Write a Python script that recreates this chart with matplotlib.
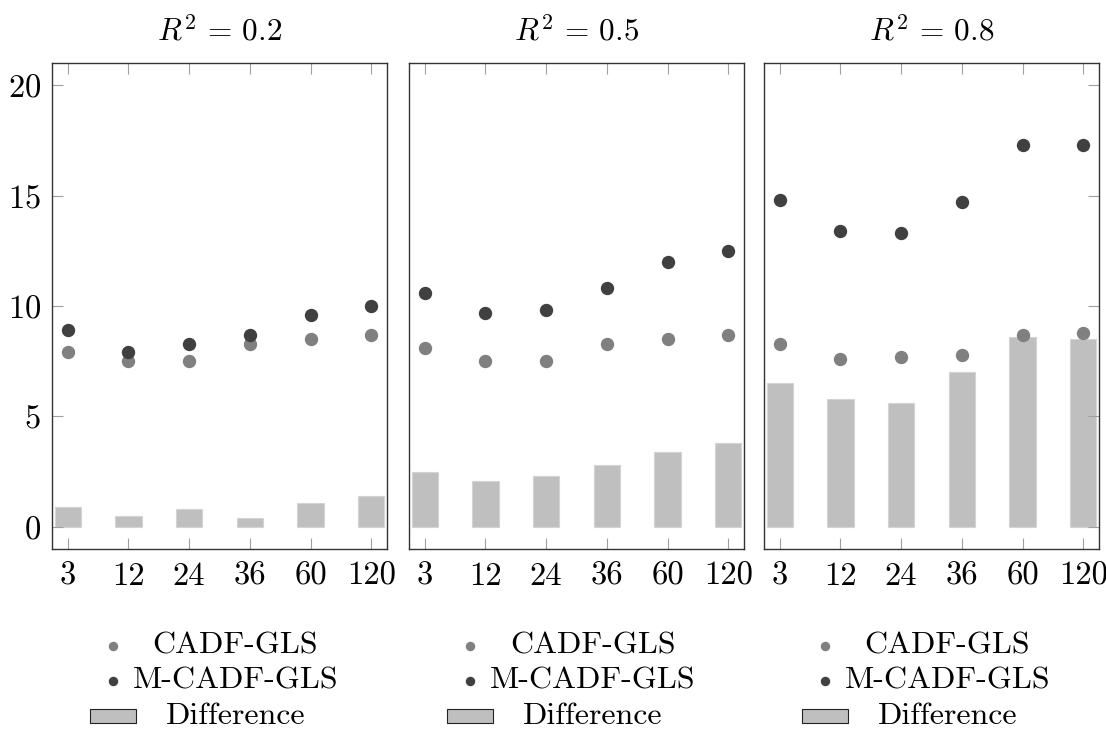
import matplotlib
matplotlib.use("Agg")
import matplotlib.pyplot as plt
from matplotlib.lines import Line2D
from matplotlib.patches import Rectangle
import numpy as np

### DATA ###
horizons = ["3", "12", "24", "36", "60", "120"]
r2_titles = [r"$R^2\,=\,0.2$", r"$R^2\,=\,0.5$", r"$R^2\,=\,0.8$"]

cadf_02 = [7.9, 7.5, 7.5, 8.3, 8.5, 8.7]
mcadf_02 = [8.9, 7.9, 8.3, 8.7, 9.6, 10.0]
diff_02 = [0.9, 0.5, 0.8, 0.4, 1.1, 1.4]

cadf_05 = [8.1, 7.5, 7.5, 8.3, 8.5, 8.7]
mcadf_05 = [10.6, 9.7, 9.8, 10.8, 12.0, 12.5]
diff_05 = [2.5, 2.1, 2.3, 2.8, 3.4, 3.8]

cadf_08 = [8.3, 7.6, 7.7, 7.8, 8.7, 8.8]
mcadf_08 = [14.8, 13.4, 13.3, 14.7, 17.3, 17.3]
diff_08 = [6.5, 5.8, 5.6, 7.0, 8.6, 8.5]

### STYLE ###
plt.rcParams['font.family'] = ['cmr10', 'DejaVu Serif']
plt.rcParams['mathtext.fontset'] = 'cm'
plt.rcParams['axes.unicode_minus'] = False
plt.rcParams['axes.formatter.use_mathtext'] = True

c_light = '#808080'
c_dark = '#404040'
c_bar = '#bfbfbf'

W, H = 1106, 731
fig = plt.figure(figsize=(W / 100, H / 100), dpi=100)

panel_left = [52, 409, 764]
panel_w = 335
bottom_px, top_px = 549, 63

panels = [(cadf_02, mcadf_02, diff_02),
          (cadf_05, mcadf_05, diff_05),
          (cadf_08, mcadf_08, diff_08)]

x = np.arange(len(horizons))

for i, (cadf, mcadf, diff) in enumerate(panels):
    ax = fig.add_axes([panel_left[i] / W, 1 - bottom_px / H,
                       panel_w / W, (bottom_px - top_px) / H])
    ax.bar(x, diff, width=0.43, color=c_bar, edgecolor='#d4d4d4', linewidth=0.8, zorder=1)
    ax.plot(x, cadf, 'o', color=c_light, ms=8.6, zorder=3)
    ax.plot(x, mcadf, 'o', color=c_dark, ms=8.6, zorder=3)

    ax.set_xlim(-0.26, 5.26)
    ax.set_ylim(-1, 21)
    ax.set_xticks(x)
    ax.set_xticklabels(horizons)
    ax.set_yticks([0, 5, 10, 15, 20])
    ax.set_title(r2_titles[i], fontsize=22.5, pad=16)

    for s in ax.spines.values():
        s.set_color('#333333')
        s.set_linewidth(1.0)

    ax.tick_params(axis='x', direction='in', length=8, width=0.8, color='#a0a0a0',
                   top=True, bottom=True, labelsize=23.5, pad=9)
    ax.tick_params(axis='y', direction='in', length=8, width=0.8, color='#a0a0a0',
                   labelsize=23.5, pad=8,
                   left=(i == 0), right=(i == 2), labelleft=(i == 0))

    ### legend under each panel (text centred like the pgfplots one) ###
    cx = panel_left[i] + panel_w / 2
    mx = cx - 107
    tx = cx + 16
    rows = [646, 681, 716]
    fig.add_artist(Line2D([mx / W], [1 - rows[0] / H], marker='o', ms=5.8,
                          color=c_light, linestyle='none', transform=fig.transFigure))
    fig.add_artist(Line2D([mx / W], [1 - rows[1] / H], marker='o', ms=5.8,
                          color=c_dark, linestyle='none', transform=fig.transFigure))
    fig.add_artist(Rectangle(((mx - 23) / W, 1 - (rows[2] + 7) / H), 46 / W, 14 / H,
                             facecolor=c_bar, edgecolor='#222222', linewidth=0.8,
                             transform=fig.transFigure))
    for lab, ry in zip(["CADF-GLS", "M-CADF-GLS", "Difference"], rows):
        fig.text(tx / W, 1 - ry / H, lab, ha='center', va='center', fontsize=23)

fig.savefig("out.png", dpi=100)
